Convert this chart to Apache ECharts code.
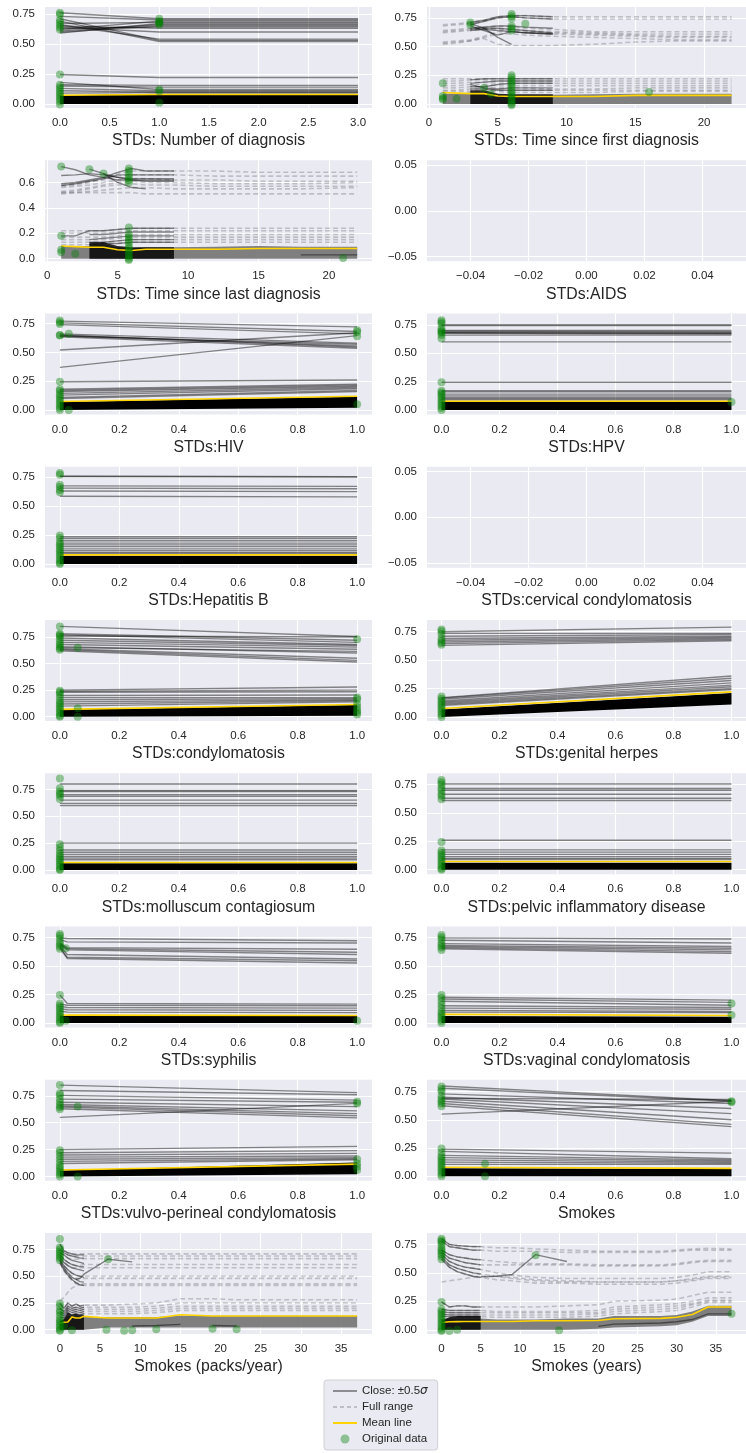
<!DOCTYPE html>
<html><head><meta charset="utf-8">
<script src="https://cdn.jsdelivr.net/npm/echarts@6/dist/echarts.min.js"></script>
<style>html,body{margin:0;padding:0;background:#fff}#c{width:746px;height:1453px}</style>
</head><body><div id="c"></div>
<script>
// ---------------- panel meta ----------------
const titles = ["STDs: Number of diagnosis","STDs: Time since first diagnosis","STDs: Time since last diagnosis","STDs:AIDS",
"STDs:HIV","STDs:HPV","STDs:Hepatitis B","STDs:cervical condylomatosis","STDs:condylomatosis","STDs:genital herpes",
"STDs:molluscum contagiosum","STDs:pelvic inflammatory disease","STDs:syphilis","STDs:vaginal condylomatosis",
"STDs:vulvo-perineal condylomatosis","Smokes","Smokes (packs/year)","Smokes (years)"];
const xRanges = [[-0.15,3.14],[-0.15,23.05],[-0.15,23.05],[-0.055,0.055],[-0.05,1.05],[-0.05,1.05],[-0.05,1.05],[-0.055,0.055],
[-0.05,1.05],[-0.05,1.05],[-0.05,1.05],[-0.05,1.05],[-0.05,1.05],[-0.05,1.05],[-0.05,1.05],[-0.05,1.05],[-1.85,38.85],[-1.85,38.85]];
const yRanges = [[-0.034,0.808],[-0.035,0.845],[-0.02,0.775],[-0.055,0.055],[-0.038,0.836],[-0.039,0.85],[-0.033,0.84],[-0.055,0.055],
[-0.04,0.91],[-0.036,0.853],[-0.04,0.9],[-0.04,0.85],[-0.04,0.845],[-0.04,0.845],[-0.04,0.9],[-0.04,0.855],[-0.04,0.905],[-0.037,0.85]];
const xTicksDiag = [0,0.5,1,1.5,2,2.5,3];
const xTicksTime = [0,5,10,15,20];
const xTicksEmpty = [-0.04,-0.02,0,0.02,0.04];
const xTicksBinary = [0,0.2,0.4,0.6,0.8,1];
const xTicksSmoke = [0,5,10,15,20,25,30,35];
const yTicksMain = [0,0.25,0.5,0.75];
const yTicksLast = [0,0.2,0.4,0.6];
const yTicksEmpty = [-0.05,0,0.05];

// ---------------- P0 Number of diagnosis ----------------
const p0_x = [0,1,2,3];
const p0_close = [[0.76,0.71,0.71,0.71],[0.73,0.70,0.70,0.70],[0.71,0.53,0.53,0.53],[0.69,0.52,0.52,0.52],[0.67,0.68,0.68,0.68],
[0.65,0.63,0.63,0.63],[0.62,0.69,0.69,0.69],[0.61,0.66,0.66,0.66],[0.60,0.65,0.65,0.65],[0.64,0.60,0.60,0.60],[0.59,0.67,0.67,0.67],
[0.66,0.54,0.54,0.54],[0.63,0.64,0.64,0.64],[0.245,0.22,0.22,0.22],[0.18,0.12,0.12,0.12],[0.16,0.155,0.155,0.155],[0.15,0.14,0.14,0.14],[0.13,0.11,0.11,0.11],
[0.11,0.10,0.10,0.10],[0.09,0.095,0.095,0.095]];
const p0_full = [];
const p0_bandLo = [0,0,0,0], p0_bandHi = [0.07,0.085,0.085,0.085];
const p0_grayLo = [], p0_grayHi = [];
const p0_mean = [0.072,0.078,0.078,0.078];
const p0_dots = [[0,0.76],[0,0.745],[0,0.70],[0,0.68],[0,0.66],[0,0.64],[0,0.62],[0,0.245],[0,0.16],[0,0.14],[0,0.12],[0,0.10],[0,0.08],
[0,0.06],[0,0.04],[0,0.02],[0,-0.005],[1,0.71],[1,0.69],[1,0.68],[1,0.67],[1,0.66],[1,0.12],[1,0.105],[1,0.01]];

// ---------------- P1 Time since first diagnosis ----------------
const p1_x = [1,2,3,4,5,6,7,9,12,15,18,22];
const p1_full = [[0.69,0.70,0.71,0.73,0.76,0.77,0.77,0.76,0.76,0.76,0.76,0.76],[0.68,0.69,0.70,0.72,0.75,0.76,0.75,0.74,0.74,0.74,0.74,0.74],
[0.64,0.65,0.66,0.67,0.68,0.67,0.66,0.65,0.63,0.63,0.63,0.63],[0.63,0.64,0.65,0.66,0.66,0.65,0.64,0.63,0.62,0.61,0.61,0.61],
[0.62,0.63,0.64,0.65,0.65,0.64,0.63,0.62,0.61,0.60,0.59,0.59],[0.54,0.55,0.56,0.59,0.63,0.63,0.62,0.61,0.60,0.59,0.58,0.58],
[0.52,0.53,0.55,0.58,0.61,0.61,0.60,0.59,0.58,0.57,0.56,0.56],[0.53,0.54,0.55,0.57,0.52,0.51,0.51,0.51,0.52,0.54,0.55,0.55],
[0.22,0.22,0.22,0.22,0.22,0.22,0.22,0.22,0.22,0.22,0.22,0.22],[0.20,0.20,0.21,0.21,0.20,0.20,0.20,0.20,0.20,0.20,0.20,0.20],
[0.18,0.18,0.19,0.19,0.18,0.18,0.18,0.18,0.18,0.18,0.18,0.18],[0.16,0.16,0.17,0.17,0.16,0.16,0.16,0.16,0.16,0.16,0.16,0.16],
[0.14,0.14,0.15,0.15,0.14,0.14,0.14,0.13,0.13,0.14,0.14,0.14],[0.12,0.12,0.13,0.13,0.12,0.12,0.12,0.12,0.12,0.12,0.12,0.12],
[0.11,0.11,0.11,0.11,0.11,0.10,0.10,0.10,0.10,0.11,0.11,0.11]];
const p1_close = [[null,null,0.71,0.73,0.76,0.77,0.77,0.76],[null,null,0.69,0.72,0.75,0.76,0.75,0.74],[null,null,0.66,0.67,0.68,0.68,0.67,0.66],
[null,null,0.65,0.66,0.66,0.65,0.64,0.62],[null,null,0.64,0.65,0.64,0.63,0.62,0.61],[null,null,0.70,0.66,0.58,0.52],
[null,null,0.68,0.64,0.60,0.63,0.62,0.61],[null,null,0.21,0.22,0.22,0.22,0.22,0.22],[null,null,0.18,0.19,0.20,0.20,0.20,0.20],
[null,null,0.15,0.15,0.17,0.18,0.18,0.18],[null,null,0.17,0.14,0.13,0.14,0.14,0.14],[null,null,0.13,0.13,0.12,0.12,0.12,0.12]];
const p1_grayLo = [0,0,0,0,0,0,0,0,0,0,0,0], p1_grayHi = [0.09,0.09,0.10,0.10,0.08,0.08,0.08,0.08,0.085,0.09,0.09,0.09];
const p1_bandLo = [null,null,0,0,0,0,0,0], p1_bandHi = [null,null,0.12,0.12,0.09,0.085,0.085,0.085];
const p1_mean = [0.10,0.095,0.09,0.09,0.07,0.065,0.065,0.065,0.065,0.075,0.075,0.075];
const p1_dots = [[1,0.18],[1,0.07],[1,0.05],[1,0.04],[2,0.045],[3,0.71],[3,0.69],[4,0.14],[4.5,0.09],[6,0.785],[6,0.765],[6,0.745],[6,0.68],
[6,0.66],[6,0.64],[6,0.25],[6,0.23],[6,0.21],[6,0.19],[6,0.17],[6,0.15],[6,0.12],[6,0.10],[6,0.08],[6,0.06],[6,0.04],[6,0.02],[6,0.0],[6,-0.01],
[7,0.70],[16,0.105]];

// ---------------- P2 Time since last diagnosis ----------------
const p2_x = [1,2,3,4,5,6,7,9,12,15,18,22];
const p2_full = [[0.57,0.58,0.60,0.63,0.67,0.69,0.69,0.69,0.69,0.68,0.68,0.68],[0.58,0.59,0.61,0.62,0.65,0.66,0.66,0.66,0.65,0.65,0.65,0.65],
[0.56,0.57,0.58,0.60,0.62,0.63,0.63,0.62,0.62,0.61,0.61,0.61],[0.53,0.54,0.56,0.58,0.60,0.61,0.60,0.60,0.59,0.59,0.59,0.60],
[0.52,0.53,0.55,0.57,0.58,0.59,0.58,0.58,0.57,0.57,0.57,0.57],[0.51,0.52,0.53,0.54,0.55,0.56,0.56,0.55,0.55,0.55,0.55,0.56],
[0.52,0.52,0.52,0.52,0.52,0.52,0.51,0.51,0.51,0.51,0.51,0.51],
[0.22,0.22,0.22,0.22,0.23,0.24,0.24,0.24,0.24,0.24,0.24,0.24],[0.20,0.20,0.20,0.20,0.21,0.22,0.22,0.22,0.22,0.22,0.22,0.22],
[0.17,0.17,0.17,0.17,0.18,0.19,0.19,0.19,0.19,0.19,0.19,0.19],[0.15,0.15,0.15,0.15,0.16,0.17,0.17,0.17,0.17,0.17,0.17,0.17],
[0.13,0.13,0.13,0.13,0.14,0.15,0.15,0.15,0.15,0.15,0.15,0.15],[0.11,0.11,0.11,0.12,0.12,0.13,0.13,0.13,0.13,0.13,0.13,0.13]];
const p2_close = [[0.725,0.70,0.66,0.64,0.62,0.62,0.62,0.62],[0.655,0.66,0.67,0.66,0.64,0.62,0.61,0.61],[0.59,0.60,0.62,0.64,0.68,0.71,0.69,0.69],
[0.575,0.59,0.61,0.63,0.66,0.66,0.66,0.66],[null,null,0.705,0.67,0.60,0.56,0.55],[null,null,null,0.67,0.64,0.63,0.63,0.63],
[0.18,0.18,0.22,0.22,0.23,0.24,0.24,0.24],[null,null,0.19,0.19,0.20,0.21,0.21,0.21],[null,null,0.15,0.16,0.17,0.18,0.18,0.18],
[null,null,0.13,0.13,0.14,0.15,0.15,0.15],[null,null,0.11,0.12,0.12,0.13,0.13,0.13],[null,null,null,null,null,null,null,null,null,null,0.03,0.03]];
const p2_grayLo = [0,0,0,0,0,0,0,0,0,0,0,0], p2_grayHi = [0.10,0.10,0.10,0.11,0.09,0.085,0.09,0.09,0.095,0.10,0.095,0.095];
const p2_bandLo = [null,null,0,0,0,0,0,0], p2_bandHi = [null,null,0.13,0.13,0.10,0.09,0.09,0.09];
const p2_mean = [0.10,0.095,0.09,0.09,0.07,0.065,0.075,0.075,0.075,0.08,0.08,0.08];
const p2_dots = [[1,0.725],[1,0.18],[1,0.07],[1,0.05],[2,0.04],[3,0.705],[4,0.67],[5.8,0.71],[5.8,0.69],[5.8,0.665],[5.8,0.64],[5.8,0.62],
[5.8,0.60],[5.8,0.245],[5.8,0.19],[5.8,0.17],[5.8,0.15],[5.8,0.13],[5.8,0.10],[5.8,0.08],[5.8,0.06],[5.8,0.04],[5.8,0.02],[5.8,0.0],[5.8,-0.01],[21,0.005]];

// ---------------- binary panels ----------------
const bin_x = [0,1];
// P4 HIV
const p4_close = [[0.77,0.72],[0.755,0.68],[0.74,0.66],[0.65,0.545],[0.645,0.555],[0.635,0.535],[0.64,0.57],[0.66,0.58],[0.52,0.67],[0.37,0.645],
[0.245,0.26],[0.18,0.225],[0.17,0.215],[0.16,0.205],[0.145,0.195],[0.13,0.185],[0.11,0.17],[0.10,0.16]];
const p4_bandLo = [0,0.02], p4_bandHi = [0.07,0.115];
const p4_mean = [0.075,0.12];
const p4_dots = [[0,0.775],[0,0.76],[0,0.745],[0,0.65],[0,0.645],[0,0.245],[0,0.18],[0,0.165],[0,0.14],[0,0.12],[0,0.10],[0,0.08],[0,0.06],
[0,0.04],[0,0.02],[0,0.0],[0.03,0.66],[0.03,0.0],[1,0.69],[1,0.675],[1,0.64],[1,0.05]];
// P5 HPV
const p5_close = [[0.75,0.75],[0.745,0.745],[0.70,0.70],[0.695,0.69],[0.685,0.68],[0.68,0.675],[0.675,0.67],[0.66,0.66],[0.60,0.60],
[0.245,0.245],[0.17,0.17],[0.16,0.16],[0.14,0.14],[0.125,0.125],[0.11,0.11],[0.10,0.10],[0.09,0.09]];
const p5_bandLo = [0,0], p5_bandHi = [0.07,0.07];
const p5_mean = [0.078,0.078];
const p5_dots = [[0,0.79],[0,0.775],[0,0.76],[0,0.72],[0,0.70],[0,0.69],[0,0.68],[0,0.66],[0,0.63],[0,0.245],[0,0.17],[0,0.155],[0,0.14],
[0,0.12],[0,0.10],[0,0.08],[0,0.06],[0,0.04],[0,0.02],[0,0.0],[1,0.07]];
// P6 Hepatitis B
const p6_close = [[0.76,0.755],[0.755,0.75],[0.675,0.67],[0.655,0.65],[0.63,0.625],[0.585,0.58],[0.235,0.235],[0.22,0.22],[0.20,0.20],
[0.18,0.18],[0.165,0.165],[0.15,0.15],[0.13,0.13],[0.115,0.115],[0.10,0.10],[0.09,0.09]];
const p6_bandLo = [0,0], p6_bandHi = [0.07,0.07];
const p6_mean = [0.078,0.078];
const p6_dots = [[0,0.785],[0,0.77],[0,0.685],[0,0.665],[0,0.64],[0,0.62],[0,0.245],[0,0.225],[0,0.19],[0,0.17],[0,0.15],[0,0.13],[0,0.11],
[0,0.09],[0,0.07],[0,0.05],[0,0.03],[0,0.01],[0,0.0]];
// P8 condylomatosis
const p8_close = [[0.85,0.755],[0.78,0.72],[0.77,0.70],[0.76,0.75],[0.74,0.68],[0.72,0.67],[0.70,0.655],[0.68,0.635],[0.66,0.60],[0.65,0.615],
[0.64,0.55],[0.63,0.53],[0.62,0.515],[0.25,0.28],[0.24,0.25],[0.23,0.235],[0.20,0.205],[0.18,0.18],[0.16,0.17],[0.14,0.16],[0.12,0.15],[0.10,0.14]];
const p8_bandLo = [0,0.01], p8_bandHi = [0.065,0.11];
const p8_mean = [0.069,0.115];
const p8_dots = [[0,0.85],[0,0.78],[0,0.77],[0,0.755],[0,0.73],[0,0.70],[0,0.68],[0,0.66],[0,0.645],[0,0.63],[0,0.245],[0,0.23],[0,0.21],
[0,0.18],[0,0.15],[0,0.13],[0,0.11],[0,0.09],[0,0.07],[0,0.05],[0,0.03],[0,0.01],[0,0.0],[0.06,0.65],[0.06,0.08],[0.06,0.0],
[1,0.73],[1,0.18],[1,0.165],[1,0.12],[1,0.09],[1,0.06],[1,0.04],[1,0.02]];
// P9 genital herpes
const p9_close = [[0.75,0.79],[0.735,0.735],[0.71,0.725],[0.69,0.71],[0.675,0.70],[0.66,0.69],[0.645,0.68],[0.63,0.67],
[0.17,0.36],[0.165,0.34],[0.155,0.32],[0.14,0.30],[0.13,0.28],[0.12,0.265],[0.11,0.25],[0.10,0.24]];
const p9_bandLo = [0,0.11], p9_bandHi = [0.065,0.21];
const p9_mean = [0.074,0.22];
const p9_dots = [[0,0.77],[0,0.755],[0,0.73],[0,0.69],[0,0.67],[0,0.65],[0,0.635],[0,0.18],[0,0.16],[0,0.14],[0,0.12],[0,0.10],[0,0.08],
[0,0.06],[0,0.04],[0,0.02],[0,0.0]];
// P10 molluscum contagiosum
const p10_close = [[0.80,0.80],[0.74,0.74],[0.73,0.73],[0.70,0.70],[0.685,0.685],[0.65,0.65],[0.62,0.62],[0.60,0.60],
[0.25,0.25],[0.185,0.185],[0.165,0.165],[0.145,0.145],[0.125,0.125],[0.11,0.11],[0.095,0.095]];
const p10_bandLo = [0,0], p10_bandHi = [0.062,0.062];
const p10_mean = [0.07,0.07];
const p10_dots = [[0,0.85],[0,0.76],[0,0.73],[0,0.71],[0,0.69],[0,0.66],[0,0.24],[0,0.21],[0,0.18],[0,0.15],[0,0.13],[0,0.11],[0,0.09],
[0,0.07],[0,0.05],[0,0.03],[0,0.01],[0,0.0]];
// P11 pelvic inflammatory disease
const p11_close = [[0.755,0.755],[0.715,0.715],[0.70,0.70],[0.665,0.665],[0.63,0.63],[0.61,0.61],[0.26,0.26],[0.175,0.175],[0.155,0.155],
[0.135,0.135],[0.115,0.115],[0.10,0.10],[0.09,0.09]];
const p11_bandLo = [0,0], p11_bandHi = [0.062,0.062];
const p11_mean = [0.072,0.072];
const p11_dots = [[0,0.79],[0,0.77],[0,0.75],[0,0.72],[0,0.70],[0,0.67],[0,0.65],[0,0.62],[0,0.245],[0,0.17],[0,0.15],[0,0.13],[0,0.11],
[0,0.09],[0,0.07],[0,0.05],[0,0.03],[0,0.01],[0,0.0]];
// P12 syphilis
const p12_x = [0,0.025,1];
const p12_close = [[0.745,0.74,0.72],[0.73,0.71,0.70],[0.70,0.66,0.645],[0.69,0.65,0.62],[0.68,0.64,0.60],[0.665,0.575,0.545],[0.655,0.565,0.525],
[0.675,0.60,0.56],[0.245,0.17,0.165],[0.165,0.155,0.15],[0.145,0.135,0.13],[0.125,0.115,0.11],[0.105,0.095,0.09]];
const p12_bandLo = [0,0,0], p12_bandHi = [0.065,0.06,0.06];
const p12_mean = [0.072,0.068,0.065];
const p12_dots = [[0,0.78],[0,0.765],[0,0.74],[0,0.71],[0,0.69],[0,0.67],[0,0.65],[0,0.245],[0,0.17],[0,0.15],[0,0.13],[0,0.11],[0,0.09],
[0,0.07],[0,0.05],[0,0.03],[0,0.01],[0,0.0],[0.02,0.655],[0.02,0.02],[1,0.02]];
// P13 vaginal condylomatosis
const p13_close = [[0.745,0.735],[0.725,0.70],[0.695,0.67],[0.68,0.655],[0.67,0.64],[0.66,0.625],[0.65,0.61],[0.225,0.20],[0.21,0.18],
[0.19,0.155],[0.15,0.135],[0.13,0.12],[0.11,0.10],[0.095,0.09]];
const p13_bandLo = [0,0], p13_bandHi = [0.06,0.055];
const p13_mean = [0.075,0.065];
const p13_dots = [[0,0.77],[0,0.75],[0,0.73],[0,0.70],[0,0.68],[0,0.66],[0,0.64],[0,0.245],[0,0.22],[0,0.19],[0,0.16],[0,0.13],[0,0.10],
[0,0.08],[0,0.06],[0,0.04],[0,0.02],[0,0.0],[1,0.17],[1,0.07]];
// P14 vulvo-perineal condylomatosis
const p14_close = [[0.85,0.78],[0.80,0.76],[0.755,0.71],[0.72,0.69],[0.69,0.65],[0.67,0.61],[0.655,0.585],[0.645,0.565],[0.63,0.545],[0.55,0.68],
[0.25,0.28],[0.22,0.24],[0.20,0.215],[0.18,0.19],[0.16,0.175],[0.14,0.165],[0.12,0.155]];
const p14_bandLo = [0,0.02], p14_bandHi = [0.055,0.13];
const p14_mean = [0.06,0.115];
const p14_dots = [[0,0.85],[0,0.775],[0,0.755],[0,0.72],[0,0.69],[0,0.665],[0,0.645],[0,0.625],[0,0.245],[0,0.22],[0,0.19],[0,0.16],[0,0.13],
[0,0.10],[0,0.08],[0,0.06],[0,0.04],[0,0.02],[0,0.0],[0.06,0.65],[0.06,0.0],[1,0.695],[1,0.68],[1,0.16],[1,0.12],[1,0.09],[1,0.06]];
// P15 Smokes
const p15_close = [[0.80,0.67],[0.78,0.665],[0.73,0.645],[0.70,0.60],[0.685,0.555],[0.665,0.50],[0.645,0.46],[0.625,0.44],[0.55,0.665],[0.69,0.68],
[0.24,0.205],[0.22,0.155],[0.185,0.145],[0.165,0.135],[0.145,0.125],[0.125,0.115],[0.105,0.105]];
const p15_bandLo = [0,0], p15_bandHi = [0.07,0.065];
const p15_mean = [0.08,0.07];
const p15_dots = [[0,0.795],[0,0.77],[0,0.75],[0,0.71],[0,0.685],[0,0.665],[0,0.645],[0,0.62],[0,0.245],[0,0.21],[0,0.18],[0,0.16],[0,0.14],
[0,0.12],[0,0.10],[0,0.08],[0,0.06],[0,0.04],[0,0.02],[0,0.0],[0.15,0.11],[0.15,0.0],[1,0.665],[1,0.655]];

// ---------------- P16 Smokes (packs/year) ----------------
const p16_x = [0,0.5,1,1.5,2,2.5,3,6,9,12,15,19,22,30,37];
const p16_full = [[0.80,0.74,0.72,0.71,0.71,0.71,0.71,0.71,0.71,0.71,0.71,0.71,0.71,0.71,0.71],
[0.75,0.72,0.70,0.69,0.69,0.69,0.69,0.69,0.69,0.69,0.69,0.69,0.69,0.69,0.69],
[0.72,0.70,0.67,0.66,0.66,0.66,0.665,0.665,0.665,0.665,0.665,0.665,0.665,0.665,0.665],
[0.70,0.66,0.63,0.61,0.60,0.60,0.61,0.61,0.61,0.61,0.61,0.61,0.61,0.61,0.61],
[0.68,0.63,0.60,0.58,0.58,0.58,0.58,0.58,0.58,0.58,0.58,0.58,0.58,0.58,0.58],
[0.66,0.60,0.56,0.53,0.51,0.50,0.50,0.50,0.50,0.50,0.50,0.50,0.50,0.50,0.50],
[0.65,0.58,0.53,0.50,0.48,0.48,0.48,0.48,0.48,0.48,0.48,0.48,0.48,0.48,0.48],
[0.63,0.56,0.51,0.47,0.44,0.43,0.43,0.43,0.43,0.43,0.43,0.43,0.43,0.43,0.43],
[0.62,0.55,0.50,0.46,0.43,0.42,0.415,0.415,0.415,0.415,0.415,0.415,0.415,0.415,0.415],
[0.27,0.30,0.35,0.39,0.41,0.42,0.42],
[0.245,0.20,0.25,0.22,0.24,0.22,0.23,0.23,0.24,0.25,0.29,0.29,0.28,0.28,0.28],
[0.20,0.17,0.22,0.20,0.21,0.20,0.21,0.21,0.21,0.22,0.25,0.25,0.25,0.25,0.25],
[0.17,0.15,0.20,0.18,0.19,0.18,0.19,0.19,0.19,0.20,0.22,0.22,0.22,0.22,0.22],
[0.15,0.13,0.18,0.16,0.17,0.16,0.17,0.17,0.17,0.18,0.20,0.20,0.20,0.20,0.20],
[0.12,0.11,0.16,0.14,0.15,0.14,0.15,0.15,0.15,0.16,0.18,0.18,0.18,0.18,0.18]];
const p16_close = [[0.80,0.74,0.72,0.71,0.70,0.70,0.70],[0.75,0.72,0.70,0.69,0.68,0.67,0.67],[0.72,0.70,0.67,0.65,0.64,0.63,0.62],
[0.70,0.66,0.63,0.61,0.60,0.59,0.59],[0.68,0.63,0.60,0.58,0.57,0.56,0.55],[0.66,0.60,0.56,0.53,0.51,0.50,0.49],
[0.65,0.58,0.53,0.49,0.47,0.45,0.445],[0.63,0.56,0.51,0.47,0.44,0.42,0.415],[null,null,null,null,0.47,0.48,0.52,0.66,0.635],
[0.245,0.20,0.25,0.22,0.24,0.22,0.23],[0.20,0.17,0.22,0.20,0.21,0.20,0.21],[0.17,0.15,0.20,0.18,0.19,0.18,0.19],
[0.15,0.13,0.18,0.16,0.17,0.16,0.17],[0.12,0.11,0.16,0.14,0.15,0.14,0.15],
[null,null,null,null,null,null,null,null,0.035,0.04,0.05],[null,null,null,null,null,null,null,null,null,null,null,0.04,0.035]];
const p16_grayLo = [0,0,0,0,0,0,0,0.02,0.02,0.02,0.02,0.02,0.02,0.02,0.02];
const p16_grayHi = [0.10,0.09,0.13,0.12,0.13,0.12,0.12,0.12,0.12,0.12,0.13,0.13,0.13,0.13,0.13];
const p16_bandLo = [0,0,0,0,0,0,0], p16_bandHi = [0.08,0.10,0.16,0.14,0.15,0.14,0.14];
const p16_mean = [0.062,0.07,0.072,0.12,0.11,0.11,0.125,0.11,0.11,0.11,0.14,0.128,0.128,0.128,0.128];
const p16_dots = [[0,0.85],[0,0.77],[0,0.75],[0,0.73],[0,0.71],[0,0.69],[0,0.67],[0,0.65],[0,0.245],[0,0.22],[0,0.18],[0,0.16],[0,0.13],
[0,0.10],[0,0.08],[0,0.06],[0,0.04],[0,0.02],[0,0.0],[0,-0.01],[0.5,0.03],[1.5,-0.005],[6,0.66],[5.8,0.0],[8,-0.01],[9,-0.005],[12,0.005],
[19,0.01],[22,0.005]];

// ---------------- P17 Smokes (years) ----------------
const p17_x = [0,1,2,3,4,5,7,9,12,16,20,22,28,30,32,34,37];
const p17_full = [[0.80,0.75,0.74,0.735,0.73,0.73,0.72,0.72,0.71,0.70,0.69,0.69,0.69,0.70,0.71,0.715,0.71],
[0.78,0.73,0.72,0.71,0.70,0.70,0.69,0.69,0.69,0.68,0.68,0.68,0.68,0.69,0.70,0.70,0.70],
[0.70,0.66,0.64,0.63,0.62,0.615,0.60,0.59,0.58,0.58,0.57,0.57,0.57,0.58,0.60,0.61,0.61],
[0.68,0.63,0.61,0.59,0.58,0.57,0.57,0.57,0.57,0.57,0.56,0.56,0.56,0.57,0.59,0.60,0.60],
[0.66,0.60,0.57,0.55,0.54,0.53,0.50,0.48,0.46,0.45,0.45,0.45,0.45,0.46,0.48,0.51,0.51],
[0.64,0.57,0.54,0.52,0.50,0.49,0.47,0.45,0.43,0.42,0.42,0.42,0.42,0.43,0.45,0.47,0.47],
[0.62,0.55,0.51,0.49,0.47,0.46,0.44,0.43,0.41,0.41,0.40,0.40,0.40,0.41,0.43,0.45,0.45],
[0.42,0.43,0.44,0.45,0.46,0.47,0.47,0.46,0.44,0.43,0.42,0.42,0.42,0.43,0.44,0.46,0.46],
[0.245,0.20,0.21,0.21,0.20,0.20,0.20,0.20,0.20,0.21,0.22,0.25,0.26,0.27,0.30,0.33,0.33],
[0.18,0.17,0.17,0.17,0.17,0.17,0.16,0.16,0.16,0.16,0.17,0.20,0.22,0.23,0.25,0.28,0.28],
[0.16,0.15,0.15,0.15,0.15,0.15,0.15,0.15,0.15,0.15,0.15,0.18,0.20,0.21,0.23,0.26,0.26],
[0.14,0.13,0.13,0.13,0.13,0.13,0.13,0.13,0.13,0.13,0.14,0.16,0.18,0.19,0.22,0.25,0.25],
[0.12,0.115,0.115,0.115,0.115,0.115,0.11,0.11,0.11,0.11,0.12,0.14,0.16,0.17,0.20,0.24,0.24]];
const p17_close = [[0.80,0.75,0.74,0.735,0.73,0.73],[0.78,0.73,0.72,0.71,0.70,0.70],[0.70,0.66,0.64,0.63,0.62,0.615],[0.68,0.63,0.61,0.59,0.58,0.57],
[0.66,0.60,0.57,0.55,0.54,0.53],[0.64,0.57,0.54,0.52,0.50,0.49],[0.62,0.55,0.51,0.49,0.47,0.46],
[null,null,null,null,null,0.465,0.47,0.485,0.66,0.60],
[0.245,0.20,0.21,0.21,0.20,0.20],[0.18,0.17,0.17,0.17,0.17,0.17],[0.16,0.15,0.15,0.15,0.15,0.15],[0.14,0.13,0.13,0.13,0.13,0.13],
[0.12,0.115,0.115,0.115,0.115,0.115],[null,null,null,null,null,null,null,null,null,null,0.03,0.05,0.06,0.07,0.09,0.14,0.14]];
const p17_grayLo = [0,0,0,0,0,0,0,0,0,0,0.01,0.02,0.03,0.04,0.07,0.12,0.12];
const p17_grayHi = [0.10,0.10,0.10,0.10,0.10,0.10,0.09,0.09,0.09,0.10,0.10,0.12,0.12,0.13,0.16,0.21,0.21];
const p17_bandLo = [0,0,0,0,0,0], p17_bandHi = [0.08,0.11,0.12,0.12,0.12,0.12];
const p17_mean = [0.064,0.07,0.072,0.073,0.073,0.073,0.073,0.073,0.08,0.08,0.082,0.097,0.10,0.11,0.135,0.20,0.20];
const p17_dots = [[0,0.80],[0,0.785],[0,0.77],[0,0.75],[0,0.72],[0,0.70],[0,0.685],[0,0.665],[0,0.645],[0,0.62],[0,0.245],[0,0.18],[0,0.16],
[0,0.14],[0,0.12],[0,0.10],[0,0.08],[0,0.06],[0,0.04],[0,0.02],[0,0.0],[0,-0.01],[1,-0.01],[2,0.0],[12,0.655],[15,-0.005],[37,0.14]];

// ---------------- assemble ----------------
const panels = [
 {x:p0_x, close:p0_close, full:p0_full, bLo:p0_bandLo, bHi:p0_bandHi, gLo:p0_grayLo, gHi:p0_grayHi, mean:p0_mean, dots:p0_dots, xt:xTicksDiag, xd:1, yt:yTicksMain, yd:2},
 {x:p1_x, close:p1_close, full:p1_full, bLo:p1_bandLo, bHi:p1_bandHi, gLo:p1_grayLo, gHi:p1_grayHi, mean:p1_mean, dots:p1_dots, xt:xTicksTime, xd:0, yt:yTicksMain, yd:2},
 {x:p2_x, close:p2_close, full:p2_full, bLo:p2_bandLo, bHi:p2_bandHi, gLo:p2_grayLo, gHi:p2_grayHi, mean:p2_mean, dots:p2_dots, xt:xTicksTime, xd:0, yt:yTicksLast, yd:1},
 {x:[], close:[], full:[], bLo:[], bHi:[], gLo:[], gHi:[], mean:[], dots:[], xt:xTicksEmpty, xd:2, yt:yTicksEmpty, yd:2},
 {x:bin_x, close:p4_close, full:[], bLo:p4_bandLo, bHi:p4_bandHi, gLo:[], gHi:[], mean:p4_mean, dots:p4_dots, xt:xTicksBinary, xd:1, yt:yTicksMain, yd:2},
 {x:bin_x, close:p5_close, full:[], bLo:p5_bandLo, bHi:p5_bandHi, gLo:[], gHi:[], mean:p5_mean, dots:p5_dots, xt:xTicksBinary, xd:1, yt:yTicksMain, yd:2},
 {x:bin_x, close:p6_close, full:[], bLo:p6_bandLo, bHi:p6_bandHi, gLo:[], gHi:[], mean:p6_mean, dots:p6_dots, xt:xTicksBinary, xd:1, yt:yTicksMain, yd:2},
 {x:[], close:[], full:[], bLo:[], bHi:[], gLo:[], gHi:[], mean:[], dots:[], xt:xTicksEmpty, xd:2, yt:yTicksEmpty, yd:2},
 {x:bin_x, close:p8_close, full:[], bLo:p8_bandLo, bHi:p8_bandHi, gLo:[], gHi:[], mean:p8_mean, dots:p8_dots, xt:xTicksBinary, xd:1, yt:yTicksMain, yd:2},
 {x:bin_x, close:p9_close, full:[], bLo:p9_bandLo, bHi:p9_bandHi, gLo:[], gHi:[], mean:p9_mean, dots:p9_dots, xt:xTicksBinary, xd:1, yt:yTicksMain, yd:2},
 {x:bin_x, close:p10_close, full:[], bLo:p10_bandLo, bHi:p10_bandHi, gLo:[], gHi:[], mean:p10_mean, dots:p10_dots, xt:xTicksBinary, xd:1, yt:yTicksMain, yd:2},
 {x:bin_x, close:p11_close, full:[], bLo:p11_bandLo, bHi:p11_bandHi, gLo:[], gHi:[], mean:p11_mean, dots:p11_dots, xt:xTicksBinary, xd:1, yt:yTicksMain, yd:2},
 {x:p12_x, close:p12_close, full:[], bLo:p12_bandLo, bHi:p12_bandHi, gLo:[], gHi:[], mean:p12_mean, dots:p12_dots, xt:xTicksBinary, xd:1, yt:yTicksMain, yd:2},
 {x:bin_x, close:p13_close, full:[], bLo:p13_bandLo, bHi:p13_bandHi, gLo:[], gHi:[], mean:p13_mean, dots:p13_dots, xt:xTicksBinary, xd:1, yt:yTicksMain, yd:2},
 {x:bin_x, close:p14_close, full:[], bLo:p14_bandLo, bHi:p14_bandHi, gLo:[], gHi:[], mean:p14_mean, dots:p14_dots, xt:xTicksBinary, xd:1, yt:yTicksMain, yd:2},
 {x:bin_x, close:p15_close, full:[], bLo:p15_bandLo, bHi:p15_bandHi, gLo:[], gHi:[], mean:p15_mean, dots:p15_dots, xt:xTicksBinary, xd:1, yt:yTicksMain, yd:2},
 {x:p16_x, close:p16_close, full:p16_full, bLo:p16_bandLo, bHi:p16_bandHi, gLo:p16_grayLo, gHi:p16_grayHi, mean:p16_mean, dots:p16_dots, xt:xTicksSmoke, xd:0, yt:yTicksMain, yd:2},
 {x:p17_x, close:p17_close, full:p17_full, bLo:p17_bandLo, bHi:p17_bandHi, gLo:p17_grayLo, gHi:p17_grayHi, mean:p17_mean, dots:p17_dots, xt:xTicksSmoke, xd:0, yt:yTicksMain, yd:2}
];

const FONT = '"Liberation Sans", Arial, Helvetica, sans-serif';
const TXT = '#262626';
const NAME_CLOSE = 'Close: \u00b10.5\u03c3', NAME_FULL = 'Full range', NAME_MEAN = 'Mean line', NAME_DATA = 'Original data';
const CLOSE_COLOR = 'rgba(0,0,0,0.45)', FULL_COLOR = 'rgba(60,60,70,0.26)', MEAN_COLOR = '#FFD400';

function fmt(d){ return v => (v < -1e-9 ? '\u2212' : '') + Math.abs(v).toFixed(d); }
function coordsOf(xs, ys){ const c=[]; for(let k=0;k<ys.length;k++){ if(ys[k]!==null && ys[k]!==undefined) c.push([xs[k], ys[k]]); } return c; }
function bandSeries(i, xs, lo, hi, color, z){
  return {type:'custom', xAxisIndex:i, yAxisIndex:i, silent:true, z:z, data:[[xs[0], hi[0]]],
    renderItem:(params, api)=>{
      const top=[], bot=[];
      for(let k=0;k<hi.length;k++){ if(hi[k]===null||hi[k]===undefined) continue; top.push(api.coord([xs[k],hi[k]])); bot.push(api.coord([xs[k],lo[k]])); }
      return {type:'polygon', shape:{points: top.concat(bot.reverse())}, style:{fill:color}};
    }};
}

const grids=[], xAxes=[], yAxes=[];
const series=[
  {type:'line', name:NAME_CLOSE, xAxisIndex:0, yAxisIndex:0, data:[], symbol:'none', lineStyle:{color:'rgba(0,0,0,0.4)', width:1.3}},
  {type:'line', name:NAME_FULL, xAxisIndex:0, yAxisIndex:0, data:[], symbol:'none', lineStyle:{color:'rgba(60,60,70,0.26)', width:1.3, type:[4,3]}},
  {type:'line', name:NAME_MEAN, xAxisIndex:0, yAxisIndex:0, data:[], symbol:'none', lineStyle:{color:MEAN_COLOR, width:1.6}}
];

panels.forEach((p,i)=>{
  const row=Math.floor(i/2), col=i%2;
  grids.push({left: col ? 427 : 45, top: 7 + 153.25*row, width: 327, height: 101, show:true, backgroundColor:'#EAEAF2', borderWidth:0, containLabel:false});
  xAxes.push({type:'value', gridIndex:i, min:xRanges[i][0], max:xRanges[i][1],
    axisLine:{show:false}, axisTick:{show:false, customValues:p.xt},
    axisLabel:{customValues:p.xt, formatter:fmt(p.xd), color:TXT, fontSize:11.5, fontFamily:FONT, margin:9},
    splitLine:{show:true, lineStyle:{color:'#ffffff', width:1.1}},
    name:titles[i], nameLocation:'middle', nameGap:25, nameTextStyle:{color:TXT, fontSize:15.8, fontFamily:FONT}});
  yAxes.push({type:'value', gridIndex:i, min:yRanges[i][0], max:yRanges[i][1],
    axisLine:{show:false}, axisTick:{show:false, customValues:p.yt},
    axisLabel:{customValues:p.yt, formatter:fmt(p.yd), color:TXT, fontSize:11.5, fontFamily:FONT, margin:10},
    splitLine:{show:true, lineStyle:{color:'#ffffff', width:1.1}}});
  if(p.full.length) series.push({type:'lines', name:NAME_FULL, coordinateSystem:'cartesian2d', xAxisIndex:i, yAxisIndex:i, polyline:true, silent:true, z:2,
    lineStyle:{color:FULL_COLOR, opacity:1, width:1.6, type:[5,3]}, data:p.full.map(ys=>({coords:coordsOf(p.x, ys)}))});
  if(p.gHi.length) series.push(bandSeries(i, p.x, p.gLo, p.gHi, 'rgba(115,115,115,0.9)', 3));
  if(p.close.length) series.push({type:'lines', name:NAME_CLOSE, coordinateSystem:'cartesian2d', xAxisIndex:i, yAxisIndex:i, polyline:true, silent:true, z:4,
    lineStyle:{color:CLOSE_COLOR, opacity:1, width:1.4}, data:p.close.map(ys=>({coords:coordsOf(p.x, ys)}))});
  if(p.bHi.length) series.push(bandSeries(i, p.x, p.bLo, p.bHi, p.gHi.length ? 'rgba(0,0,0,0.82)' : '#000000', 5));
  if(p.mean.length) series.push({type:'line', name:NAME_MEAN, xAxisIndex:i, yAxisIndex:i, symbol:'none', silent:true, z:6,
    lineStyle:{color:MEAN_COLOR, width:1.6}, data:coordsOf(p.x, p.mean)});
  if(p.dots.length) series.push({type:'scatter', name:NAME_DATA, xAxisIndex:i, yAxisIndex:i, symbolSize:8, silent:true, z:7,
    itemStyle:{color:'rgba(0,128,0,0.5)'}, data:p.dots});
});

const hideSym = {opacity:0, color:'rgba(0,0,0,0)', borderWidth:0};
const chart = echarts.init(document.getElementById('c'), null, {renderer:'canvas'});
chart.setOption({
  animation:false, backgroundColor:'#ffffff', textStyle:{fontFamily:FONT},
  grid:grids, xAxis:xAxes, yAxis:yAxes, series:series,
  legend:{orient:'vertical', left:324, top:1380, padding:[5,10,5,8], itemWidth:24, itemHeight:9, itemGap:4,
    backgroundColor:'#EAEAF2', borderColor:'#cfcfd6', borderWidth:1, borderRadius:3,
    data:[{name:NAME_CLOSE, itemStyle:hideSym}, {name:NAME_FULL, itemStyle:hideSym}, {name:NAME_MEAN, itemStyle:hideSym}, {name:NAME_DATA}],
    formatter: n => n===NAME_CLOSE ? 'Close: \u00b10.5{i|\u03c3}' : n,
    textStyle:{color:TXT, fontSize:11.5, fontFamily:FONT, rich:{i:{fontStyle:'italic', fontSize:12, fontFamily:'"DejaVu Sans", sans-serif', color:TXT}}}}
});
</script></body></html>
